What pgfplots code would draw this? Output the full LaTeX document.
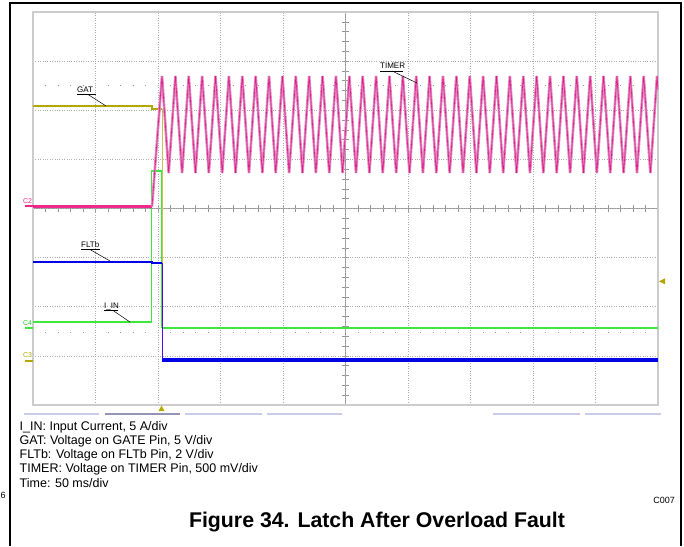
\documentclass[border=0pt]{standalone}
\usepackage{pgfplots}
\usepackage{pgfplotstable}
\pgfplotsset{compat=1.18}
\usepackage{fontspec}
\setmainfont{Liberation Sans}
\definecolor{gatc}{RGB}{178,168,0}
\definecolor{timc}{RGB}{225,25,135}
\definecolor{timl}{RGB}{222,135,190}
\definecolor{fltc}{RGB}{0,0,230}
\definecolor{iinc}{RGB}{60,232,60}
\definecolor{barl}{RGB}{202,202,234}
\definecolor{bard}{RGB}{150,148,182}
\definecolor{c2c}{RGB}{240,40,140}
\definecolor{gridc}{RGB}{175,175,175}
\definecolor{crossc}{RGB}{150,150,150}

\pgfplotstableread{
t v
-154.8 0.04
-146.80 2.70
-141.45 0.72
-136.10 2.70
-130.74 0.72
-125.39 2.70
-120.04 0.72
-114.69 2.70
-109.34 0.72
-103.98 2.70
-98.63 0.72
-93.28 2.70
-87.93 0.72
-82.58 2.70
-77.22 0.72
-71.87 2.70
-66.52 0.72
-61.17 2.70
-55.82 0.72
-50.46 2.70
-45.11 0.72
-39.76 2.70
-34.41 0.72
-29.06 2.70
-23.70 0.72
-18.35 2.70
-13.00 0.72
-7.65 2.70
-2.30 0.72
3.06 2.70
8.41 0.72
13.76 2.70
19.11 0.72
24.46 2.70
29.82 0.72
35.17 2.70
40.52 0.72
45.87 2.70
51.22 0.72
56.58 2.70
61.93 0.72
67.28 2.70
72.63 0.72
77.98 2.70
83.34 0.72
88.69 2.70
94.04 0.72
99.39 2.70
104.74 0.72
110.10 2.70
115.45 0.72
120.80 2.70
126.15 0.72
131.50 2.70
136.86 0.72
142.21 2.70
147.56 0.72
152.91 2.70
158.26 0.72
163.62 2.70
168.97 0.72
174.32 2.70
179.67 0.72
185.02 2.70
190.38 0.72
195.73 2.70
201.08 0.72
206.43 2.70
211.78 0.72
217.14 2.70
222.49 0.72
227.84 2.70
233.19 0.72
238.54 2.70
243.90 0.72
249.25 2.70
250.00 2.42
}\timerdata

\begin{document}
\begin{tikzpicture}[x=1pt,y=-1pt]
\useasboundingbox (0,0) rectangle (684,546);
% centre cross with ticks
\draw[crossc, line width=0.7pt] (33,208.5)--(658,208.5);
\draw[crossc, line width=0.7pt] (345.5,12)--(345.5,405);
\foreach \i in {1,...,49} \draw[crossc, line width=0.6pt] ({33+12.5*\i},205.2) -- ++(0,6.6);
\foreach \i in {1,...,39} \draw[crossc, line width=0.6pt] (342.2,{12+9.825*\i}) -- ++(6.6,0);
% sparse dotted rows
\draw[gray!80, line width=0.8pt, dash pattern=on 0.8pt off 11.7pt] (45.1,85)--(658,85);
\draw[gray!80, line width=0.8pt, dash pattern=on 0.8pt off 11.7pt] (45.1,332)--(658,332);

\begin{axis}[at={(33pt,-405pt)}, anchor=south west,
  width=625pt, height=393pt, scale only axis,
  xmin=-250, xmax=250, ymin=-4, ymax=4,
  xtick={-200,-150,...,200}, ytick={-3,-2,...,3},
  xticklabels={}, yticklabels={}, major tick length=0pt,
  grid=major, grid style={gridc, line width=0.6pt, dash pattern=on 0.8pt off 1.6pt},
  axis line style={gray!40, line width=1.4pt},
  clip=true]
% GAT
\addplot[gatc, line width=2.6pt] coordinates {(-250,2.087) (-154.8,2.087) (-154.8,2.026) (-146.6,2.026)};
\addplot[gatc!70, line width=0.9pt] coordinates {(-146.6,2.026) (-146.6,-3.10)};
\addplot[gatc, line width=2pt] coordinates {(-146.6,-3.11) (250,-3.11)};
% I_IN
\addplot[iinc, line width=1.5pt] coordinates {(-250,-2.31) (-155,-2.31)};
\addplot[iinc, line width=1.3pt] coordinates {(-155,-2.31) (-155,0.763) (-147,0.763) (-147,-2.43)};
\addplot[iinc, line width=1.7pt] coordinates {(-147,-2.43) (250,-2.43)};
% FLTb
\addplot[fltc, line width=2.8pt] coordinates {(-250,-1.089) (-154.8,-1.089) (-154.8,-1.109) (-146.6,-1.109)};
\addplot[fltc!60!magenta, line width=0.8pt] coordinates {(-146.6,-1.109) (-146.6,-3.084)};
\addplot[fltc, line width=3.2pt] coordinates {(-146.6,-3.084) (250,-3.084)};
% TIMER
\addplot[c2c, line width=2.6pt] coordinates {(-250,0.04) (-154.8,0.04)};
\addplot[timl, line width=2.6pt] table {\timerdata};
\addplot[timc, line width=0.6pt] table {\timerdata};
\end{axis}

% outer frame
\draw[black, line width=1.3pt] (10,546) -- (10,3) -- (681,3) -- (681,546);
% bottom bars
\foreach \a/\b/\c in {24/99/barl,105/180/bard,185/262/barl,267/342/barl,493/580/barl,585/661/barl}
  \fill[\c] (\a,412.7) rectangle (\b,415.3);
% trigger markers
\fill[gatc] (158.5,411) -- (164.5,411) -- (161.5,405.5) -- cycle;
\fill[gatc] (659,281.3) -- (665,278.3) -- (665,284.3) -- cycle;
% channel markers
\node[c2c, font=\fontsize{7}{7}\selectfont, anchor=base, inner sep=0pt] at (27.5,203.2) {C2};
\draw[c2c, line width=1.6pt] (25,206)--(33,206);
\node[iinc!85!black, font=\fontsize{7}{7}\selectfont, anchor=base, inner sep=0pt] at (27.5,325) {C4};
\draw[iinc, line width=1.6pt] (25,328)--(33,328);
\node[gatc, font=\fontsize{7}{7}\selectfont, anchor=base, inner sep=0pt] at (27.5,357.7) {C3};
\draw[gatc, line width=1.6pt] (25,361)--(33,361);
% trace labels
\tikzset{lbl/.style={font=\fontsize{8}{8}\selectfont, anchor=base west, inner sep=0pt}}
\node[lbl] at (77,92) {GAT};
\draw[line width=0.6pt] (77,94.5)--(95.5,94.5);
\draw[line width=0.5pt] (88,94.5)--(106,106);
\node[lbl] at (380,68) {TIMER};
\draw[line width=0.6pt] (380,71)--(403,71);
\draw[line width=0.5pt] (392,71)--(417,83);
\node[lbl] at (81,247) {FLTb};
\draw[line width=0.6pt] (81,249.5)--(100,249.5);
\draw[line width=0.5pt] (90,249.5)--(110,261);
\node[lbl] at (104,308.5) {I\_IN};
\draw[line width=0.6pt] (104,310.5)--(118,310.5);
\draw[line width=0.5pt] (113,310.5)--(130,322);
% caption lines
\tikzset{captx/.style={font=\fontsize{12.5}{14}\selectfont, anchor=base west, inner sep=0pt}}
\node[captx] at (19.5,430) {I\_IN: Input Current, 5 A/div};
\node[captx] at (19.5,444.25) {GAT: Voltage on GATE Pin, 5 V/div};
\node[captx] at (19.5,458.5) {FLTb: Voltage on FLTb Pin, 2 V/div};
\node[captx] at (19.5,472.75) {TIMER: Voltage on TIMER Pin, 500 mV/div};
\node[captx] at (19.5,487) {Time: 50 ms/div};
\node[font=\fontsize{9}{10}\selectfont, anchor=base west, inner sep=0pt] at (0.5,498) {6};
\node[font=\fontsize{9}{10}\selectfont, anchor=base east, inner sep=0pt] at (675,503.5) {C007};
\node[font=\fontsize{21.3}{24}\selectfont\bfseries, anchor=base, inner sep=0pt] at (377,527.5) {Figure 34. Latch After Overload Fault};
\end{tikzpicture}
\end{document}
